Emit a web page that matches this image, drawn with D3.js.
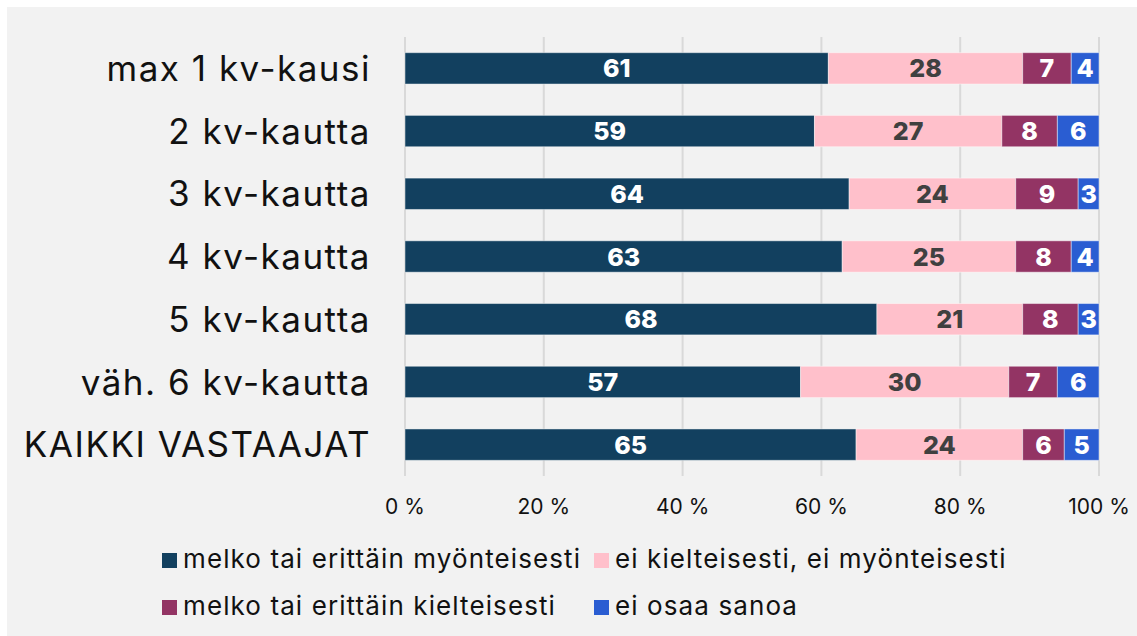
<!DOCTYPE html>
<html>
<head>
<meta charset="utf-8">
<script src="https://cdn.jsdelivr.net/npm/d3@7"></script>
<style>
    html, body { margin: 0; padding: 0; background: #fff; }
    svg { display: block; }
</style>
</head>
<body>
<svg id="chart" width="1137" height="636"></svg>
<script>
// chart data
const categories = ['max 1 kv-kausi', '2 kv-kautta', '3 kv-kautta', '4 kv-kautta', '5 kv-kautta', 'väh. 6 kv-kautta', 'KAIKKI VASTAAJAT'];
const seriesNames = ['melko tai erittäin myönteisesti', 'ei kielteisesti, ei myönteisesti', 'melko tai erittäin kielteisesti', 'ei osaa sanoa'];
const positive = [61, 59, 64, 63, 68, 57, 65];
const neutral = [28, 27, 24, 25, 21, 30, 24];
const negative = [7, 8, 9, 8, 8, 7, 6];
const dontKnow = [4, 6, 3, 4, 3, 6, 5];
const xTicks = [0, 20, 40, 60, 80, 100];

const colors = ['#12405f', '#ffc0cb', '#933464', '#2a5dd2'];
const labelColors = ['#ffffff', '#404040', '#ffffff', '#ffffff'];

const svg = d3.select('#chart');
const font = 'Inter, "Open Sans", sans-serif';

// grey panel
svg.append('rect')
    .attr('x', 7).attr('y', 7)
    .attr('width', 1130).attr('height', 629)
    .attr('fill', '#f2f2f2');

let x = d3.scaleLinear().domain([0, 100]).range([405, 1099]);
let y = d3.scaleBand().domain(categories).range([37, 476])
    .paddingInner(0.5).paddingOuter(0.25);

// gridlines
svg.append('g')
    .selectAll('line')
    .data(xTicks)
    .join('line')
    .attr('x1', d => x(d)).attr('x2', d => x(d))
    .attr('y1', 37).attr('y2', 476)
    .attr('stroke', '#d9d9d9')
    .attr('stroke-width', 2);

// stack the series
let rows = categories.map((c, i) => ({
    cat: c, s0: positive[i], s1: neutral[i], s2: negative[i], s3: dontKnow[i]
}));
let stacked = d3.stack().keys(['s0', 's1', 's2', 's3'])(rows);

let groups = svg.append('g')
    .selectAll('g')
    .data(stacked)
    .join('g');

groups.selectAll('rect')
    .data(d => d)
    .join('rect')
    .attr('x', d => x(d[0]))
    .attr('y', d => y(d.data.cat))
    .attr('width', d => x(d[1]) - x(d[0]))
    .attr('height', y.bandwidth())
    .attr('fill', function() { return colors[d3.select(this.parentNode).datum().index]; })
    .attr('stroke', 'rgba(255,255,255,0.45)')
    .attr('stroke-width', 1);

groups.selectAll('text')
    .data(d => d)
    .join('text')
    .attr('x', d => (x(d[0]) + x(d[1])) / 2)
    .attr('y', d => y(d.data.cat) + y.bandwidth() / 2)
    .attr('dy', '0.36em')
    .attr('text-anchor', 'middle')
    .attr('font-family', font)
    .attr('font-weight', 800)
    .attr('font-size', 25)
    .attr('fill', function() { return labelColors[d3.select(this.parentNode).datum().index]; })
    .text(d => d[1] - d[0]);

// category labels
svg.append('g')
    .selectAll('text')
    .data(categories)
    .join('text')
    .attr('x', 371)
    .attr('y', d => y(d) + y.bandwidth() / 2)
    .attr('dy', '0.36em')
    .attr('text-anchor', 'end')
    .attr('font-family', font)
    .attr('font-size', 35)
    .attr('letter-spacing', '1.5px')
    .attr('fill', '#111')
    .text(d => d);

// x tick labels
svg.append('g')
    .selectAll('text')
    .data(xTicks)
    .join('text')
    .attr('x', d => x(d))
    .attr('y', 514)
    .attr('text-anchor', 'middle')
    .attr('font-family', font)
    .attr('font-size', 21)
    .attr('fill', '#111')
    .text(d => `${d} %`);

// legend, two rows of two
let legendPos = [[162, 553], [594, 553], [162, 600], [594, 600]];
let legend = svg.append('g')
    .selectAll('g')
    .data(seriesNames)
    .join('g')
    .attr('transform', (d, i) => `translate(${legendPos[i][0]},${legendPos[i][1]})`);

legend.append('rect')
    .attr('width', 15).attr('height', 15)
    .attr('fill', (d, i) => colors[i]);

legend.append('text')
    .attr('x', 21).attr('y', 15)
    .attr('font-family', font)
    .attr('font-size', 26)
    .attr('letter-spacing', '1.1px')
    .attr('fill', '#111')
    .text(d => d);
</script>
</body>
</html>
